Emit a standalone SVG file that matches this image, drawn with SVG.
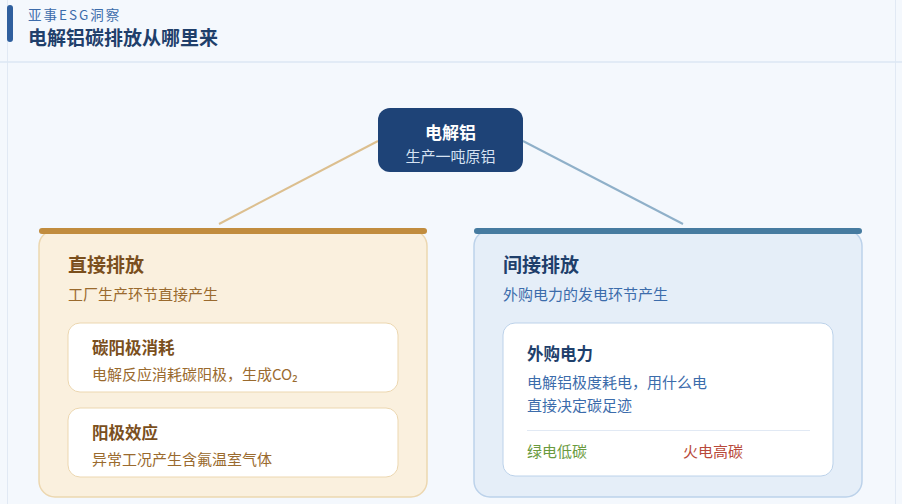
<svg xmlns="http://www.w3.org/2000/svg" width="902" height="504" viewBox="0 0 902 504">
<style>
text{font-family:"Noto Sans CJK SC","Noto Sans",sans-serif}
.t{font-size:17px;font-weight:700}
.s{font-size:15px}
.h{font-size:19px;font-weight:700}
.b{font-size:16.5px;font-weight:700}
</style>
<rect width="902" height="504" fill="#f4f8fd"/>
<line x1="7.5" y1="0" x2="7.5" y2="504" stroke="#e1e9f4"/>
<line x1="895.5" y1="0" x2="895.5" y2="504" stroke="#e1e9f4"/>
<line x1="0" y1="62" x2="902" y2="62" stroke="#dde7f3" stroke-width="1.5"/>
<rect x="7" y="5" width="6" height="37" rx="3" fill="#2f5f9e"/>
<text x="28" y="20" font-size="13.5" fill="#3c6cab" letter-spacing="2">亚事ESG洞察</text>
<text x="28" y="45" font-size="19" font-weight="700" fill="#1f3f6b">电解铝碳排放从哪里来</text>
<g id="connectors">
<line x1="378" y1="141" x2="219" y2="224" stroke="#dcbf8f" stroke-width="2"/>
<line x1="523" y1="141" x2="683" y2="224" stroke="#8fb0c9" stroke-width="2"/>
</g>
<g id="root">
<rect x="378" y="108" width="145" height="64" rx="12" fill="#1e4377"/>
<text x="450.5" y="139" text-anchor="middle" class="t" fill="#fff">电解铝</text>
<text x="450.5" y="162" text-anchor="middle" class="s" fill="#d6e2f2">生产一吨原铝</text>
</g>
<g id="direct">
<rect x="39" y="230" width="388" height="267" rx="16" fill="#faf0de" stroke="#ecd7b0" stroke-width="1.5"/>
<rect x="39" y="228" width="388" height="6" rx="3" fill="#c18c3e"/>
<text x="68" y="272" class="h" fill="#7a4f1d">直接排放</text>
<text x="68" y="300" class="s" fill="#9a6a2e">工厂生产环节直接产生</text>
</g>
<g id="anode">
<rect x="68" y="323" width="330" height="69" rx="12" fill="#fff" stroke="#ecd7b0"/>
<text x="92" y="354" class="b" fill="#7a4f1d">碳阳极消耗</text>
<text x="92" y="380" class="s" fill="#9a6a2e">电解反应消耗碳阳极，生成CO₂</text>
</g>
<g id="effect">
<rect x="68" y="408" width="330" height="69" rx="12" fill="#fff" stroke="#ecd7b0"/>
<text x="92" y="439" class="b" fill="#7a4f1d">阳极效应</text>
<text x="92" y="465" class="s" fill="#9a6a2e">异常工况产生含氟温室气体</text>
</g>
<g id="indirect">
<rect x="474" y="230" width="388" height="267" rx="16" fill="#e5eef8" stroke="#bcd2ea" stroke-width="1.5"/>
<rect x="474" y="228" width="388" height="6" rx="3" fill="#467ba0"/>
<text x="503" y="272" class="h" fill="#1f3f6b">间接排放</text>
<text x="503" y="300" class="s" fill="#3c6cab">外购电力的发电环节产生</text>
</g>
<g id="power">
<rect x="503" y="323" width="330" height="153" rx="12" fill="#fff" stroke="#bcd2ea"/>
<text x="527" y="360" class="b" fill="#1f3f6b">外购电力</text>
<text x="527" y="388" class="s" fill="#3c6cab">电解铝极度耗电，用什么电</text>
<text x="527" y="411" class="s" fill="#3c6cab">直接决定碳足迹</text>
<line x1="527" y1="430.5" x2="810" y2="430.5" stroke="#e1e9f4"/>
<text x="527" y="457" class="s" fill="#6a9a3e">绿电低碳</text>
<text x="683" y="457" class="s" fill="#b8493a">火电高碳</text>
</g>
</svg>
